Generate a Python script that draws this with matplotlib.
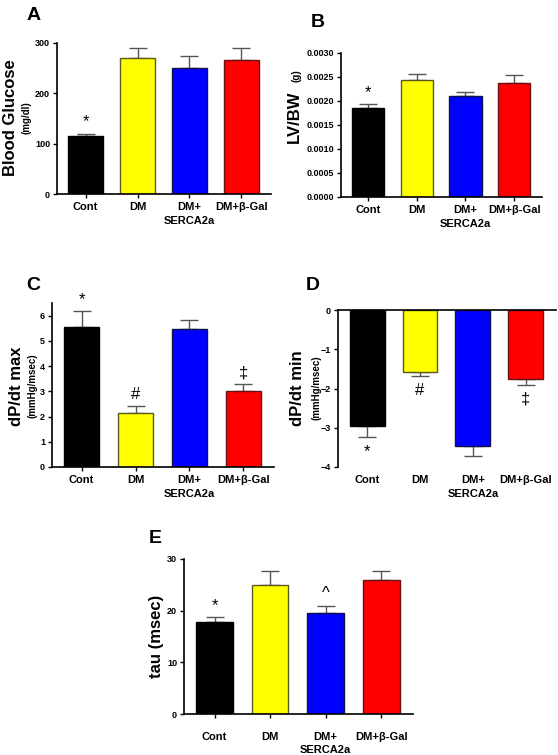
import numpy as np
import matplotlib
matplotlib.use('Agg')
import matplotlib.pyplot as plt
from matplotlib.ticker import FormatStrFormatter

plt.rcParams['font.family'] = ['Liberation Sans', 'DejaVu Sans']
plt.rcParams['font.weight'] = 'bold'

W, H = 558, 755

# --- data ---
groups = ['Cont', 'DM', 'DM+\nSERCA2a', 'DM+\u03b2-Gal']
colors = ['#000000', '#ffff00', '#0000ff', '#ff0000']
edges = ['#000000', '#5a5a20', '#10104a', '#6a1010']

glucose = [116, 270, 251, 267]
glucose_err = [4, 21, 23, 24]

lvbw = [0.00186, 0.00244, 0.00211, 0.00237]
lvbw_err = [0.00008, 0.00013, 0.00007, 0.00017]

dpdt_max = [5.55, 2.16, 5.47, 3.01]
dpdt_max_err = [0.63, 0.25, 0.36, 0.26]

dpdt_min = [-2.96, -1.57, -3.46, -1.76]
dpdt_min_err = [0.27, 0.12, 0.27, 0.15]

tau = [17.9, 24.9, 19.6, 26.0]
tau_err = [0.8, 2.7, 1.4, 1.6]

marks_A = ['*', '', '', '']
marks_B = ['*', '', '', '']
marks_C = ['*', '#', '', '\u2021']
marks_D = ['*', '#', '', '\u2021']
marks_E = ['*', '', '^', '']


def px_axes(fig, left, right, top, bottom):
    return fig.add_axes([left / W, 1 - bottom / H,
                         (right - left) / W, (bottom - top) / H])


def ftext(fig, x, y, s, **kw):
    fig.text(x / W, 1 - y / H, s, **kw)


def bar_panel(ax, vals, errs, marks, ylim, yticks, neg=False, xpad=3):
    x = np.arange(len(vals))
    ax.bar(x, vals, width=0.66, color=colors, edgecolor=edges, lw=1.0,
           zorder=2)
    lo = errs if neg else [0] * len(errs)
    hi = [0] * len(errs) if neg else errs
    ax.errorbar(x, vals, yerr=[lo, hi], fmt='none', ecolor='#555555',
                elinewidth=1.0, capsize=6.5, capthick=1.0, zorder=1)
    ax.set_xlim(-0.55, 3.57)
    ax.set_ylim(*ylim)
    ax.set_yticks(yticks)
    ax.set_xticks(x)
    ax.set_xticklabels(groups, fontsize=8, fontweight='bold',
                       linespacing=1.4)
    ax.tick_params(axis='y', labelsize=6.5, length=3, width=1, pad=2)
    ax.tick_params(axis='x', length=3, width=1, pad=xpad)
    for lab in ax.get_yticklabels():
        lab.set_fontweight('bold')
    ax.spines['top'].set_visible(False)
    ax.spines['right'].set_visible(False)
    ax.spines['left'].set_linewidth(1.2)
    ax.spines['bottom'].set_linewidth(1.2)
    for xi, v, e, m in zip(x, vals, errs, marks):
        if not m:
            continue
        if neg:
            ax.annotate(m, (xi, v - e), xytext=(0, -5),
                        textcoords='offset points', ha='center', va='top',
                        fontsize=12, fontweight='normal')
        else:
            ax.annotate(m, (xi, v + e), xytext=(0, 3),
                        textcoords='offset points', ha='center',
                        va='bottom', fontsize=12, fontweight='normal')


fig = plt.figure(figsize=(W / 100, H / 100), dpi=100)

# A
axA = px_axes(fig, 57, 271, 43, 194)
bar_panel(axA, glucose, glucose_err, marks_A, (0, 300), [0, 100, 200, 300])
ftext(fig, 27, 20, 'A', fontsize=14, fontweight='bold')
ftext(fig, 11, 118, 'Blood Glucose', rotation=90, ha='center', va='center',
      fontsize=12, fontweight='bold')
ftext(fig, 27, 118, '(mg/dl)', rotation=90, ha='center', va='center',
      fontsize=7, fontweight='bold')

# B
axB = px_axes(fig, 341, 542, 53, 197)
bar_panel(axB, lvbw, lvbw_err, marks_B, (0, 0.003),
          np.arange(0, 0.00301, 0.0005))
axB.yaxis.set_major_formatter(FormatStrFormatter('%.4f'))
ftext(fig, 311, 27, 'B', fontsize=14, fontweight='bold')
ftext(fig, 294, 143, 'LV/BW', rotation=90, ha='center', va='bottom',
      fontsize=12, fontweight='bold')
ftext(fig, 296, 82, '(g)', rotation=90, ha='center', va='bottom',
      fontsize=7, fontweight='bold')

# C
axC = px_axes(fig, 52, 274, 303, 467)
bar_panel(axC, dpdt_max, dpdt_max_err, marks_C, (0, 6.5), range(0, 7))
ftext(fig, 26, 290, 'C', fontsize=14, fontweight='bold')
ftext(fig, 17, 386, 'dP/dt max', rotation=90, ha='center', va='center',
      fontsize=12, fontweight='bold')
ftext(fig, 32, 386, '(mmHg/msec)', rotation=90, ha='center', va='center',
      fontsize=7, fontweight='bold')

# D
axD = px_axes(fig, 338, 556, 310, 467)
bar_panel(axD, dpdt_min, dpdt_min_err, marks_D, (-4, 0), range(-4, 1),
          neg=True)
axD.spines['bottom'].set_visible(False)
axD.spines['top'].set_visible(True)
axD.spines['top'].set_linewidth(1.2)
axD.tick_params(axis='x', length=0, pad=6)
ftext(fig, 306, 290, 'D', fontsize=14, fontweight='bold')
ftext(fig, 297, 388, 'dP/dt min', rotation=90, ha='center', va='center',
      fontsize=12, fontweight='bold')
ftext(fig, 316, 388, '(mmHg/msec)', rotation=90, ha='center', va='center',
      fontsize=7, fontweight='bold')

# E
axE = px_axes(fig, 184, 413, 559, 714)
bar_panel(axE, tau, tau_err, marks_E, (0, 30), [0, 10, 20, 30], xpad=10)
ftext(fig, 149, 543, 'E', fontsize=14, fontweight='bold')
ftext(fig, 157, 636, 'tau (msec)', rotation=90, ha='center', va='center',
      fontsize=12, fontweight='bold')

fig.savefig('out.png', dpi=100)
